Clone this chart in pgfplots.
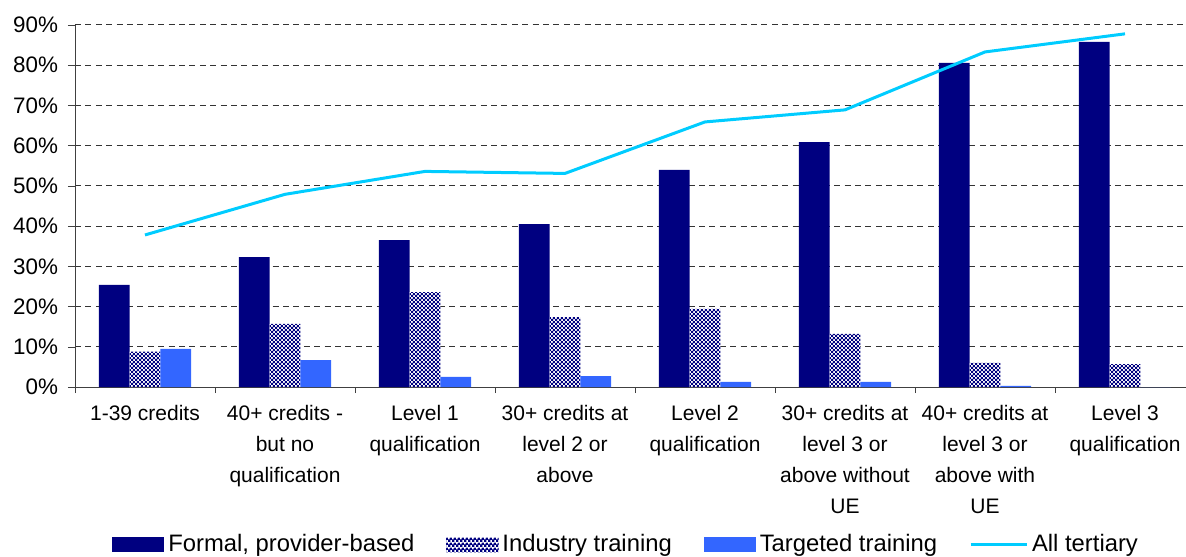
\documentclass[border=0pt]{standalone}
\usepackage{fontspec}
\setmainfont{Liberation Sans}
\usepackage{pgfplots}
\pgfplotsset{compat=1.18}
\usetikzlibrary{patterns.meta}

\definecolor{formal}{HTML}{000080}
\definecolor{targeted}{HTML}{3366FF}
\definecolor{tertiary}{HTML}{00CCFF}

% fine navy/white checker used by the industry training bars
\tikzdeclarepattern{
  name=finecheck,
  type=uncolored,
  bottom left={(0pt,0pt)},
  top right={(2.2pt,2.2pt)},
  tile size={(2.2pt,2.2pt)},
  code={
    \fill (0pt,0pt) rectangle (1.25pt,1.25pt);
    \fill (1.1pt,1.1pt) rectangle (2.2pt,2.2pt);
  }
}

\begin{document}
\begin{tikzpicture}
\begin{axis}[
    scale only axis,
    width=560pt,
    height=181pt,
    xmin=-0.5, xmax=7.5,
    ymin=0, ymax=90,
    axis x line*=bottom,
    axis y line*=left,
    axis line style={black!75, -},
    xtick={0,1,2,3,4,5,6,7},
    xticklabels={
        1-39 credits,
        40+ credits -\\but no\\qualification,
        Level 1\\qualification,
        30+ credits at\\level 2 or\\above,
        Level 2\\qualification,
        30+ credits at\\level 3 or\\above without\\UE,
        40+ credits at\\level 3 or\\above with\\UE,
        Level 3\\qualification},
    minor xtick={-0.5,0.5,1.5,2.5,3.5,4.5,5.5,6.5},
    major x tick style={draw=none},
    minor x tick style={black!75},
    minor tick length=3pt,
    xticklabel style={align=center, font=\fontsize{10.5}{15.5}\selectfont, yshift=-2pt},
    ytick={0,10,20,30,40,50,60,70,80,90},
    yticklabels={0\%,10\%,20\%,30\%,40\%,50\%,60\%,70\%,80\%,90\%},
    y tick style={black!75},
    major tick length=3.5pt,
    tick align=outside,
    yticklabel style={font=\fontsize{11.2}{13}\selectfont, xshift=-1.5pt},
    ymajorgrids,
    grid style={black!80, dash pattern=on 3pt off 2.2pt, line width=0.5pt},
    legend columns=4,
    legend style={
        at={(0.493,-0.436)}, anchor=center, draw=none,
        font=\fontsize{11.9}{13}\selectfont,
        /tikz/every even column/.append style={column sep=14pt},
        inner sep=0pt,
    },
    legend cell align=left,
]

\addplot[fill=formal, draw=none, ybar, bar width=0.22, bar shift=-0.22,
    legend image code/.code={\fill[formal] (0pt,-3.75pt) rectangle (26pt,3.75pt);}]
    coordinates {(0,25.4) (1,32.3) (2,36.5) (3,40.5) (4,54.0) (5,60.9) (6,80.6) (7,85.8)};
\addlegendentry{Formal, provider-based}

\addplot[fill=white, draw=none, ybar, bar width=0.22, bar shift=0,
    postaction={pattern=finecheck, pattern color=formal},
    legend image code/.code={\fill[white] (0pt,-3.75pt) rectangle (26pt,3.75pt);
        \fill[pattern=finecheck, pattern color=formal] (0pt,-3.75pt) rectangle (26pt,3.75pt);}]
    coordinates {(0,8.8) (1,15.7) (2,23.6) (3,17.4) (4,19.4) (5,13.2) (6,6.0) (7,5.7)};
\addlegendentry{Industry training}

\addplot[fill=targeted, draw=none, ybar, bar width=0.22, bar shift=0.22,
    legend image code/.code={\fill[targeted] (0pt,-3.75pt) rectangle (26pt,3.75pt);}]
    coordinates {(0,9.5) (1,6.7) (2,2.5) (3,2.7) (4,1.3) (5,1.3) (6,0.3) (7,0)};
\addlegendentry{Targeted training}

\addplot[color=tertiary, line width=1.5pt, mark=none,
    legend image code/.code={\draw[tertiary, line width=1.5pt] (-4pt,0pt) -- (24pt,0pt);}]
    coordinates {(0,37.8) (1,47.9) (2,53.6) (3,53.1) (4,65.9) (5,68.9) (6,83.3) (7,87.8)};
\addlegendentry{All tertiary}

\coordinate (bl) at (rel axis cs:0,0);
\coordinate (tr) at (rel axis cs:1,1);
\end{axis}
\pgfresetboundingbox
\useasboundingbox ([shift={(-37.5pt,-84.5pt)}]bl) rectangle ([shift={(-4.5pt,12.5pt)}]tr);
\end{tikzpicture}
\end{document}
